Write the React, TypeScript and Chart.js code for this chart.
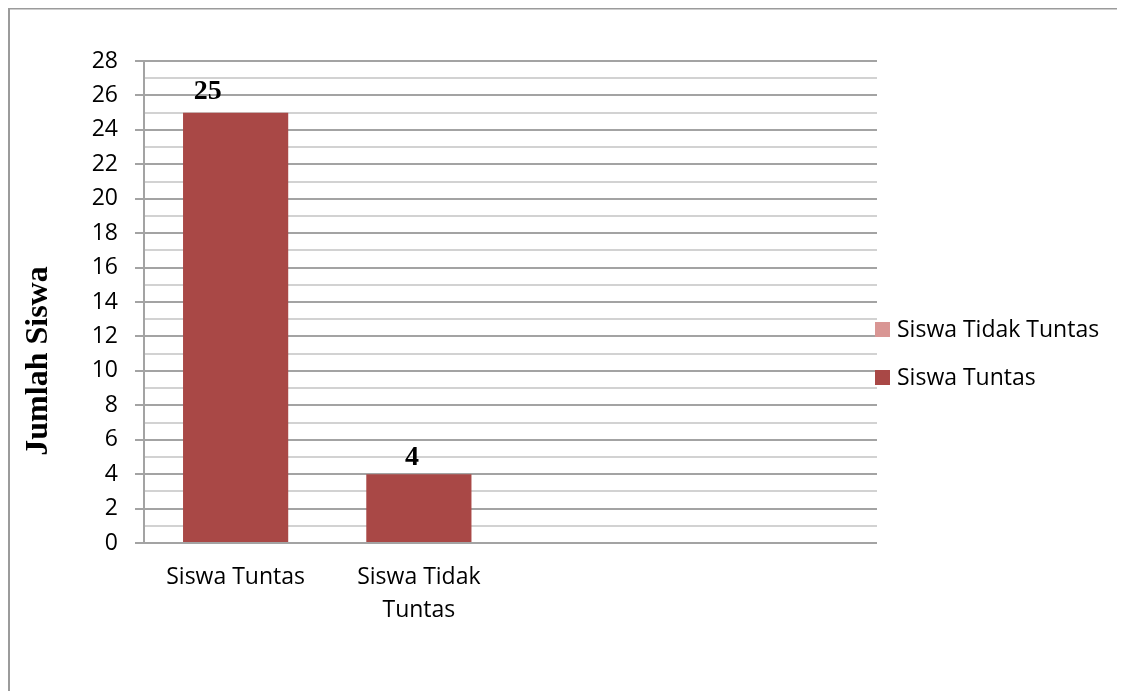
import React, { useEffect, useRef } from 'react';
import { Chart, registerables } from 'chart.js';

Chart.register(...registerables);

const categories: (string | string[])[] = ['Siswa Tuntas', ['Siswa Tidak', 'Tuntas'], '', ''];
const siswaTuntas: (number | null)[] = [25, 4, null, null];
const siswaTidakTuntas: (number | null)[] = [null, null, null, null];
const yMin = 0;
const yMax = 28;
const yMinorStep = 1;
const yLabelStep = 2;

const BAR = '#a94846';
const PINK = '#d99694';
const MAJOR = '#a3a3a3';
const MINOR = '#d2d2d2';
const SANS = '"Open Sans", Lato, sans-serif';
const SERIF = '"Liberation Serif", "DejaVu Serif", serif';

const decor = {
  id: 'decor',
  beforeDraw(chart: any) {
    const c = chart.ctx;
    const w = chart.width;
    const h = chart.height;
    c.save();
    c.fillStyle = '#ffffff';
    c.fillRect(0, 0, w, h);
    c.fillStyle = '#9b9b9b';
    c.fillRect(0, 0, w, 1.5);
    c.fillRect(0, 0, 2, h);
    c.restore();
  },
  afterDraw(chart: any) {
    const c = chart.ctx;
    const area = chart.chartArea;
    c.save();
    // value labels
    const nudgeX = [-28, -7];
    const nudgeY = [14, 9];
    const meta = chart.getDatasetMeta(1);
    const ds = chart.data.datasets[1];
    c.font = `bold 28px ${SERIF}`;
    c.fillStyle = '#000';
    c.textAlign = 'center';
    c.textBaseline = 'alphabetic';
    meta.data.forEach((el: any, i: number) => {
      const v = ds.data[i];
      if (v === null || v === undefined) return;
      c.fillText(String(v), el.x + (nudgeX[i] || 0), el.y - (nudgeY[i] || 10));
    });
    // y axis title
    c.save();
    c.translate(31, 353);
    c.rotate(-Math.PI / 2);
    c.font = `bold 32px ${SERIF}`;
    c.textAlign = 'center';
    c.textBaseline = 'middle';
    c.fillText('Jumlah Siswa', 0, 0);
    c.restore();
    // legend
    const x0 = area.right - 2;
    let y = 314;
    c.font = `23px ${SANS}`;
    c.textAlign = 'left';
    c.textBaseline = 'middle';
    chart.data.datasets.forEach((d: any) => {
      c.fillStyle = d.backgroundColor;
      c.fillRect(x0, y, 15, 15);
      c.fillStyle = '#000';
      c.fillText(d.label, x0 + 22, y + 8);
      y += 48;
    });
    c.restore();
  },
};

export default function App() {
  const ref = useRef<HTMLCanvasElement | null>(null);
  useEffect(() => {
    if (!ref.current) return;
    const chart = new Chart(ref.current, {
      type: 'bar',
      data: {
        labels: categories,
        datasets: [
          {
            label: 'Siswa Tidak Tuntas',
            data: siswaTidakTuntas,
            backgroundColor: PINK,
            grouped: false,
            barPercentage: 0.574,
            categoryPercentage: 1,
          },
          {
            label: 'Siswa Tuntas',
            data: siswaTuntas,
            backgroundColor: BAR,
            grouped: false,
            barPercentage: 0.574,
            categoryPercentage: 1,
          },
        ],
      } as any,
      options: {
        animation: false,
        responsive: true,
        maintainAspectRatio: false,
        layout: { padding: { left: 0, top: 53, right: 248, bottom: 0 } },
        plugins: { legend: { display: false }, tooltip: { enabled: false } },
        scales: {
          x: {
            grid: { display: false, drawTicks: false },
            border: { display: false },
            ticks: {
              color: '#000',
              font: { family: SANS, size: 23, lineHeight: 1.42 },
              padding: 18,
              maxRotation: 0,
              autoSkip: false,
            },
            afterFit(scale: any) {
              scale.height = 148;
            },
          },
          y: {
            min: yMin,
            max: yMax,
            grid: {
              color: (ctx: any) => (ctx.tick && ctx.tick.value % yLabelStep === 0 ? MAJOR : MINOR),
              tickColor: (ctx: any) => (ctx.tick && ctx.tick.value % yLabelStep === 0 ? MAJOR : 'rgba(0,0,0,0)'),
              lineWidth: 2,
              tickLength: 9,
            },
            border: { display: true, color: MAJOR, width: 2 },
            ticks: {
              stepSize: yMinorStep,
              autoSkip: false,
              color: '#000',
              padding: 17,
              font: { family: SANS, size: 23 },
              callback: (v: any) => (Number(v) % yLabelStep === 0 ? String(v) : ''),
            },
            afterFit(scale: any) {
              scale.width = 136;
            },
          },
        },
      } as any,
      plugins: [decor],
    });
    return () => chart.destroy();
  }, []);
  return (
    <div style={{ position: 'relative', width: 1117, height: 683 }}>
      <canvas ref={ref} />
    </div>
  );
}
